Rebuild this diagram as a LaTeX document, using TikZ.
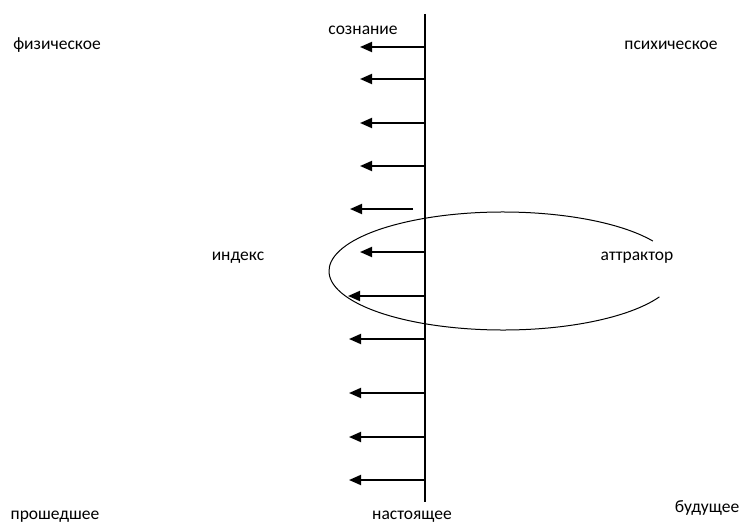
\documentclass[tikz,border=0pt]{standalone}
\usepackage{fontspec}
\setmainfont{Carlito}
\usetikzlibrary{arrows.meta,calc}
\begin{document}
\begin{tikzpicture}[x=1pt,y=-1pt,
  lbl/.style={inner sep=0pt,font=\fontsize{17.5}{17.5}\selectfont},
  axis/.style={line width=2pt},
  ray/.style={line width=1.8pt,-{Triangle[length=12pt,width=10pt]}},
  loop/.style={line width=1pt}]
\useasboundingbox (0,0) rectangle (746,524);
% axis
\coordinate (top) at (425,14);
\coordinate (bot) at (425,502);
\draw[axis] (top) -- (bot);
% arrows
\foreach \y/\x [count=\i] in {47/360,79/360,123/360,166/360,252/360,296/348,339/349,393/349,437/349,480/349}{
  \coordinate (s\i) at (425,\y);
  \coordinate (e\i) at (\x,\y);
  \draw[ray] (s\i) -- (e\i);
}
\coordinate (s0) at (413,209);
\coordinate (e0) at (350,209);
\draw[ray] (s0) -- (e0);
% attractor loop
\coordinate (c) at (503,271);
\draw[loop] ($(c)+(-30.5:174 and 59)$) arc[start angle=-30.5,end angle=-334,x radius=174,y radius=59];
% labels
\node[lbl] (soz) at (363,30) {сознание};
\node[lbl] (fiz) at (57,45) {физическое};
\node[lbl] (psy) at (671,45) {психическое};
\node[lbl] (ind) at (238,258) {индекс};
\node[lbl] (att) at (637,258) {аттрактор};
\node[lbl] (pro) at (55,517) {прошедшее};
\node[lbl] (nas) at (412,517) {настоящее};
\node[lbl] (bud) at (707,508) {будущее};
\end{tikzpicture}
\end{document}
